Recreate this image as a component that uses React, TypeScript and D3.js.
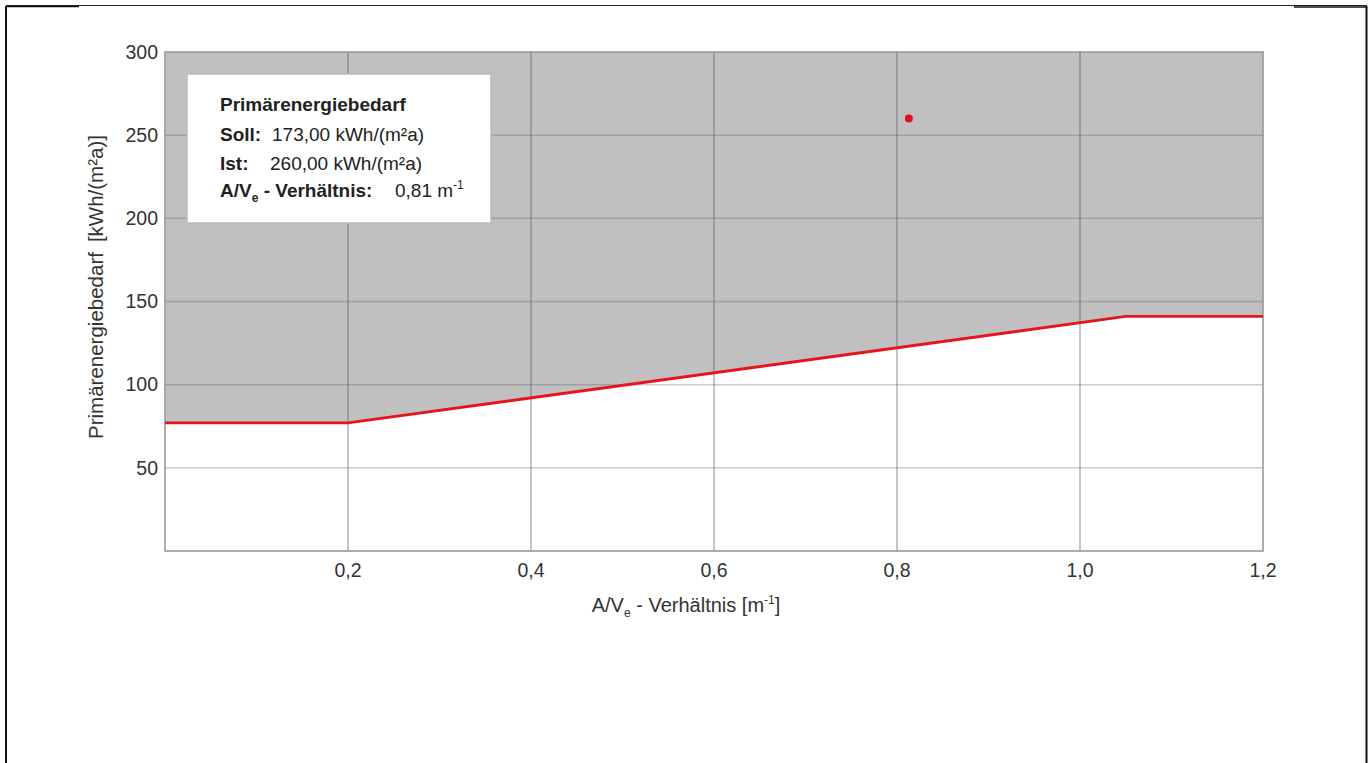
import React from "react";
import * as d3 from "d3";

const xTicks = [0.2, 0.4, 0.6, 0.8, 1.0, 1.2];
const yTicks = [50, 100, 150, 200, 250, 300];
const limitX = [0, 0.2, 1.05, 1.2];
const limitY = [77, 77, 141, 141];
const pointX = [0.813];
const pointY = [260];
const legendTitle = "Primärenergiebedarf";
const sollLabel = "Soll:";
const sollValue = "173,00 kWh/(m²a)";
const istLabel = "Ist:";
const istValue = "260,00 kWh/(m²a)";
const ratioValue = "0,81 m";

const W = 1368;
const H = 763;
const FONT = "'Liberation Sans', Arial, sans-serif";

export default function App() {
  const x = d3.scaleLinear().domain([0, 1.2]).range([165, 1263]);
  const y = d3.scaleLinear().domain([0, 300]).range([551, 52]);
  const pts = limitX.map((v, i) => ({ x: v, y: limitY[i] }));
  const area = d3
    .area<{ x: number; y: number }>()
    .x((d) => x(d.x))
    .y0(y(300))
    .y1((d) => y(d.y));
  const line = d3
    .line<{ x: number; y: number }>()
    .x((d) => x(d.x))
    .y((d) => y(d.y));
  const fmt = (v: number) => d3.format(".1f")(v).replace(".", ",");
  const [x0, x1] = x.range();
  const [yb, yt] = y.range();

  return (
    <svg
      width={W}
      height={H}
      style={{ position: "absolute", left: 0, top: 0, background: "#fff" }}
      fontFamily={FONT}
    >
      {/* frame */}
      <line x1={6} y1={6} x2={6} y2={H} stroke="#111" strokeWidth={2} />
      <line x1={1366.5} y1={6} x2={1366.5} y2={H} stroke="#111" strokeWidth={2} />
      <line x1={6} y1={5.5} x2={1367} y2={5.5} stroke="#222" strokeWidth={1} />
      <line x1={6} y1={6.5} x2={79} y2={6.5} stroke="#111" strokeWidth={1.5} />
      <line x1={1294} y1={7} x2={1367} y2={7} stroke="#111" strokeWidth={1.5} />

      {/* plot background */}
      <rect x={x0} y={yt} width={x1 - x0} height={yb - yt} fill="#fff" />
      <path d={area(pts) || ""} fill="#c0c0c0" />

      {/* grid */}
      <g>
        {yTicks.slice(0, -1).map((t) => (
          <line key={"h" + t} x1={x0} x2={x1} y1={y(t)} y2={y(t)} stroke="#555" strokeOpacity={0.3} strokeWidth={1.5} />
        ))}
        {xTicks.slice(0, -1).map((t) => (
          <line key={"v" + t} x1={x(t)} x2={x(t)} y1={yt} y2={yb} stroke="#555" strokeOpacity={0.45} strokeWidth={1.5} />
        ))}
      </g>
      <rect x={x0} y={yt} width={x1 - x0} height={yb - yt} fill="none" stroke="#999" strokeOpacity={0.8} strokeWidth={2} />

      {/* limit line */}
      <path d={line(pts) || ""} fill="none" stroke="#e3161c" strokeWidth={2.8} />

      {/* actual point */}
      {pointX.map((v, i) => (
        <circle key={i} cx={x(v)} cy={y(pointY[i])} r={4} fill="#e0102a" />
      ))}

      {/* y tick labels */}
      {yTicks.map((t) => (
        <text key={"yl" + t} x={158} y={y(t)} dy="0.35em" textAnchor="end" fontSize={19.5} fill="#333">
          {t}
        </text>
      ))}
      {/* x tick labels */}
      {xTicks.map((t) => (
        <text key={"xl" + t} x={x(t)} y={577} textAnchor="middle" fontSize={19.5} fill="#333">
          {fmt(t)}
        </text>
      ))}

      {/* axis titles */}
      <text x={686} y={612} textAnchor="middle" fontSize={20} fill="#333">
        A/V<tspan fontSize={12} dy={5}>e</tspan>
        <tspan dy={-5}> - Verhältnis [m</tspan>
        <tspan fontSize={12} dy={-8}>-1</tspan>
        <tspan dy={8}>]</tspan>
      </text>
      <text transform="translate(103,287) rotate(-90)" textAnchor="middle" fontSize={20.5} fill="#333">
        <tspan>Primärenergiebedarf</tspan>
        <tspan dx={10}>[kWh/(m²a)]</tspan>
      </text>

      {/* legend */}
      <rect x={187} y={74} width={304} height={149} fill="#fff" stroke="#bbb" strokeWidth={1.5} />
      <g fontSize={19} fill="#222">
        <text x={220} y={111} fontWeight="bold">{legendTitle}</text>
        <text x={220} y={141}>
          <tspan fontWeight="bold">{sollLabel}</tspan>
          <tspan x={272}>{sollValue}</tspan>
        </text>
        <text x={220} y={170}>
          <tspan fontWeight="bold">{istLabel}</tspan>
          <tspan x={270}>{istValue}</tspan>
        </text>
        <text x={220} y={197}>
          <tspan fontWeight="bold">A/V</tspan>
          <tspan fontWeight="bold" fontSize={12} dy={5}>e</tspan>
          <tspan fontWeight="bold" dy={-5}> - Verhältnis:</tspan>
          <tspan x={395}>{ratioValue}</tspan>
          <tspan fontSize={12} dy={-8}>-1</tspan>
        </text>
      </g>
    </svg>
  );
}
